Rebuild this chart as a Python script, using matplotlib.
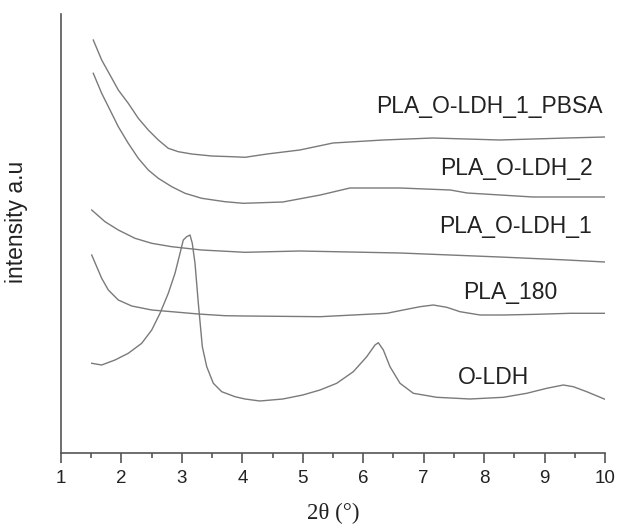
import matplotlib
matplotlib.use("Agg")
import matplotlib.pyplot as plt
from matplotlib.ticker import MultipleLocator

# Data (arbitrary intensity units)
pbsa_x = [1.534, 1.673, 1.811, 1.948, 2.113, 2.279, 2.444, 2.610, 2.775, 2.941, 3.162, 3.493,
          3.824, 4.044, 4.41, 4.95, 5.50, 6.33, 7.15, 8.26, 9.37, 10.0]
pbsa_y = [413, 393, 378, 363, 349.7, 334.7, 323, 313, 304.7, 301.3, 299, 297,
          296.3, 295.7, 299, 303, 310, 313, 315, 313, 315, 316]

ldh2_x = [1.534, 1.673, 1.811, 1.948, 2.113, 2.279, 2.444, 2.610, 2.832, 3.052, 3.328, 3.713,
          4.016, 4.67, 5.29, 5.78, 6.61, 7.44, 7.72, 8.81, 10.0]
ldh2_y = [379.7, 359.7, 343, 326.3, 309.7, 294.7, 283, 274.7, 266.3, 259.7, 254.7, 251.3,
          249.7, 251, 258, 265, 265, 263, 260, 256, 256]

ldh1_x = [1.508, 1.728, 1.948, 2.224, 2.501, 2.832, 3.328, 4.044, 4.95, 6.61, 8.26, 9.37, 10.0]
ldh1_y = [243, 231.3, 223, 214.7, 209.7, 206.3, 203, 200.7, 202, 200, 196, 193, 191]

pla180_x = [1.508, 1.591, 1.673, 1.783, 1.948, 2.170, 2.501, 2.832, 3.272, 3.713, 4.044, 5.285,
            5.836, 6.389, 6.720, 6.940, 7.160, 7.382, 7.602, 7.933, 8.318, 8.871, 9.422, 10.0]
pla180_y = [198, 186.3, 174.7, 163, 153, 147, 143, 141.3, 139, 137.3, 137, 136.3,
            138, 139.7, 143.7, 146.3, 148, 145.7, 141.3, 138, 138, 138.7, 139.7, 139.7]

oldh_x = [1.508, 1.673, 1.893, 2.113, 2.335, 2.501, 2.638, 2.775, 2.886, 2.969, 3.023, 3.080,
          3.134, 3.172, 3.217, 3.272, 3.338, 3.411, 3.520, 3.659, 3.879, 4.044, 4.29, 4.67,
          5.0, 5.285, 5.561, 5.836, 6.058, 6.195, 6.250, 6.333, 6.443, 6.609, 6.829, 7.216,
          7.767, 8.318, 8.705, 9.036, 9.311, 9.476, 9.698, 10.0]
oldh_y = [89.7, 88, 93, 99.7, 109.7, 123, 139.7, 159.7, 179.7, 199.7, 213, 216.3,
          218, 209.7, 189.7, 149.7, 106.3, 86.3, 69.7, 61.3, 56.3, 54, 52, 54,
          58, 63, 69.7, 81.3, 96.3, 108, 110.3, 103, 86.3, 69.7, 59.7, 55.7,
          54, 55.7, 59.7, 64.7, 68, 66.3, 61.3, 53.7]

labels = ["PLA_O-LDH_1_PBSA", "PLA_O-LDH_2", "PLA_O-LDH_1", "PLA_180", "O-LDH"]
label_pos = [(9.967, 346), (9.80, 285), (9.785, 227), (8.43, 161), (8.15, 76)]
label_ha = ["right", "right", "right", "center", "center"]

fig = plt.figure(figsize=(6.17, 5.24), dpi=100)
ax = fig.add_axes([61/617, 71/524, 544/617, 439/524])

line_color = "#7a7a7a"
for xs, ys in [(pbsa_x, pbsa_y), (ldh2_x, ldh2_y), (ldh1_x, ldh1_y),
               (pla180_x, pla180_y), (oldh_x, oldh_y)]:
    ax.plot(xs, ys, color=line_color, lw=1.0)

for lab, (lx, ly), ha in zip(labels, label_pos, label_ha):
    ax.text(lx, ly, lab, ha=ha, va="center", fontsize=16.5,
            family="Liberation Sans", color="#222222")

ax.set_xlim(1, 10)
ax.set_ylim(0, 439)
ax.spines["top"].set_visible(False)
ax.spines["right"].set_visible(False)
for s in ["left", "bottom"]:
    ax.spines[s].set_color("#555555")
    ax.spines[s].set_linewidth(1.2)

ax.set_yticks([])
ax.xaxis.set_major_locator(MultipleLocator(1))
ax.xaxis.set_minor_locator(MultipleLocator(0.5))
ax.tick_params(axis="x", which="major", length=7, width=1.2, color="#555555",
               labelsize=13.5, labelcolor="#222222", pad=5)
ax.tick_params(axis="x", which="minor", length=3.5, width=1.2, color="#555555")
for t in ax.get_xticklabels():
    t.set_family("Liberation Sans")

ax.set_xlabel("2θ (°)", family="Liberation Serif", fontsize=16.5, color="#222222", labelpad=12)
ax.set_ylabel("intensity a.u", family="Liberation Sans", fontsize=16.5, color="#222222")
ax.yaxis.set_label_coords(-0.061, 0.526)

fig.savefig("out.png", dpi=100)
